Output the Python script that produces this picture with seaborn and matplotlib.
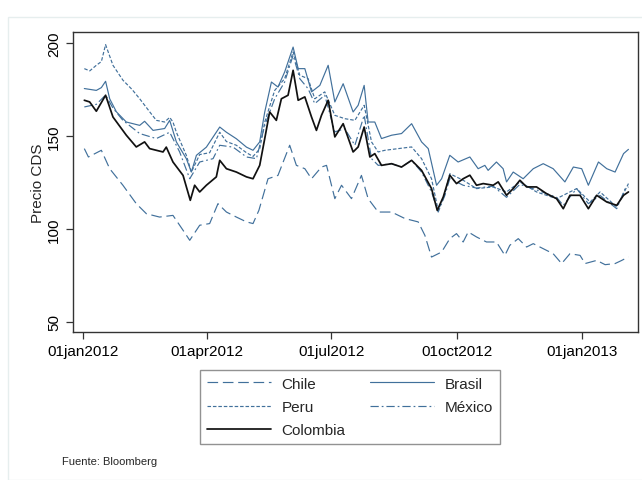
import pandas as pd
import numpy as np
import matplotlib
matplotlib.use('Agg')
import matplotlib.pyplot as plt
import matplotlib.dates as mdates
from matplotlib.lines import Line2D
from matplotlib.patches import Rectangle
import seaborn as sns

sns.set_style('white')
plt.rcParams['font.family'] = ['Liberation Sans', 'DejaVu Sans']

start = pd.Timestamp('2012-01-01')

# days since 01jan2012, CDS price
chile_days = [1, 4, 13.5, 19.6, 29.3, 39.1, 46.5, 56.2, 66, 73.4, 78.3, 85.6, 92.9, 99, 105.2, 112.5,
              119.9, 124.7, 129, 135.7, 143, 151.6, 156.5, 162.7, 167.6, 174.9, 178.6, 184.7, 189.6,
              196.9, 204.2, 209.1, 216.5, 226.3, 236.1, 245.8, 250.7, 255.6, 263, 269, 273.9, 278.8,
              282.5, 288.6, 295.9, 303.2, 309.4, 313, 319.2, 325.3, 330.2, 337.5, 344.8, 351, 357.1,
              364.5, 368.2, 376.7, 382.9, 390.2, 395.1, 400]
chile_vals = [143.2, 138.7, 142.3, 132.4, 123.5, 113.6, 108.2, 106.4, 107.3, 99.3, 93.9, 102, 102.9,
              113.6, 109.1, 106.4, 103.8, 102.9, 110, 127, 128.8, 145, 134.2, 132.4, 127, 133.3, 134.2,
              116.3, 123.5, 116.3, 128.8, 116.3, 109.1, 109.1, 105.6, 103.8, 96.6, 84.9, 87.6, 94.8,
              97.5, 93, 98.4, 95.7, 93, 93, 85.8, 91.2, 94.8, 90.3, 92.1, 89.4, 86.7, 81.4, 86.7, 85.8,
              81.4, 83.1, 80.8, 81.4, 83.1, 85]

brasil_days = [1, 9.8, 13.5, 16.6, 19.6, 24.5, 31.8, 41.6, 45.2, 51.4, 59.9, 63.6, 68.5, 75.8, 79.5,
               83.2, 90.5, 100.3, 105.2, 112.5, 119.9, 124.7, 129.6, 133.3, 138.2, 143, 147.9, 154.1,
               157.8, 162.7, 167.6, 173.7, 179.8, 184.7, 190.8, 198.1, 201.8, 206.2, 209.1, 214, 218.9,
               226.3, 233.6, 241, 248.3, 253.2, 259.3, 263, 269, 275.1, 283.7, 289.8, 294.7, 297.1,
               303.2, 308.1, 310.6, 315.5, 322.8, 330.2, 337.5, 344.8, 353.4, 359.6, 365.7, 370.6, 378,
               384.1, 390.2, 396.4, 400]
brasil_vals = [175.5, 174.5, 176, 179.4, 170, 163, 157.5, 155.7, 157.9, 153, 154, 158.4, 146.8, 137.8,
               130.6, 139.6, 144, 154.8, 152, 148.5, 144, 142.3, 146.8, 162.9, 179, 176.3, 184.4, 197.8,
               186.2, 186.2, 173.7, 177.2, 188, 168.3, 178.1, 162.9, 166.5, 177.2, 157.5, 157.5, 148.6,
               150.4, 151.3, 156.6, 146.8, 143.2, 123.5, 127, 139.6, 136, 138.7, 132.4, 134.2, 131.5,
               136, 132.4, 125.3, 130.6, 127, 132.4, 135.1, 132.4, 125.3, 133.3, 132.4, 123.5, 136,
               132.4, 130.6, 140.5, 142.8]

peru_days = [1, 5, 9.8, 13.5, 16.6, 22, 29.3, 36, 41.6, 48.9, 53.8, 59.9, 63.6, 66, 68.5, 75.8, 79.5,
             85.6, 92.9, 100.3, 105.2, 112.5, 119.9, 124.7, 129.6, 133.3, 140.6, 147.9, 154.1, 159,
             165.1, 170, 177.3, 184.7, 192, 199.4, 206.2, 211.6, 216.5, 221.4, 231.2, 241, 248.3, 255.6,
             260.5, 265, 269, 278.8, 288.6, 300.8, 310.6, 320.4, 332.6, 347.3, 362, 371.9, 379.2, 391.4,
             400]
peru_vals = [186.2, 185, 188, 190, 199.1, 188, 180, 175, 170, 163, 158.4, 157.5, 160, 157.5, 152,
             139.6, 130.6, 140, 141, 152, 147, 145, 141, 139, 143, 157.5, 174.5, 180.8, 195.2, 182.6,
             180.8, 170, 173.7, 161.1, 159.3, 158.4, 166.5, 146.8, 141.4, 142.3, 143.2, 144.1, 137.8,
             127, 110, 118, 129.7, 126.2, 121.7, 122.6, 119.9, 125.3, 119.9, 116.3, 121.7, 114.5, 119.9,
             111.8, 124.4]

mexico_days = [1, 9.8, 16.6, 22, 29.3, 41.6, 53.8, 63.6, 70.9, 78.3, 85.6, 95.4, 100.3, 110.1, 119.9,
               127.2, 133.3, 140.6, 147.9, 154.1, 159, 165.1, 170, 177.3, 184.7, 192, 199.4, 206.2,
               211.6, 216.5, 226.3, 233.6, 241, 248.3, 255.6, 260.5, 265.4, 269, 278.8, 288.6, 300.8,
               310.6, 320.4, 332.6, 347.3, 352.2, 362, 370.6, 379.2, 391.4, 397.6, 400]
mexico_vals = [165.6, 167, 172, 165, 158.4, 151.3, 148.6, 152, 141.4, 127, 136, 137.8, 145, 144, 138.7,
               137.8, 155.7, 170, 179, 193.4, 180.8, 175.4, 167.4, 171.9, 152.2, 153.9, 145, 161.1,
               137.8, 134.2, 135.1, 133.3, 136.9, 130.6, 119.9, 109.1, 118.1, 127.1, 123.5, 122, 123,
               117, 124, 121, 117, 112.7, 121.7, 113.6, 118, 110.9, 121.7, 122.6]

colombia_days = [1, 4.9, 9.8, 16.6, 22, 31.8, 39.1, 45.2, 48.9, 58.7, 61.1, 66, 73.4, 78.7, 81.9, 85.6,
                 90.5, 97.8, 100.3, 105.2, 112.5, 119.9, 124.7, 129.6, 133.3, 136.9, 141.8, 145.5,
                 150.4, 154.1, 157.8, 162.7, 167.6, 171.2, 174.9, 179.8, 184.7, 190.8, 198.1, 201.8,
                 206.2, 210.4, 214, 218.9, 226.3, 233.6, 241, 248.3, 255.6, 259.8, 264.2, 269, 273.9,
                 278.8, 283.7, 288.6, 293.5, 300.8, 304.5, 310.6, 315.5, 320.4, 325.3, 332.6, 339.9,
                 347.3, 352.2, 357.1, 364.5, 370.6, 376.7, 384.1, 391.4, 396.4, 400]
colombia_vals = [169.2, 168.3, 163.3, 171.9, 160.2, 150.4, 144.1, 146.8, 143.2, 141.4, 144, 136, 128.8,
                 115.4, 123.5, 119.9, 123.5, 128, 136.9, 132.4, 130.6, 128, 127, 134.2, 148.6, 162.9,
                 158.4, 170, 171.9, 185.3, 169.2, 171, 160.2, 153, 161.1, 169.2, 149.5, 156.6, 141.4,
                 144.1, 154.8, 138.7, 140.5, 134.2, 135.1, 133.3, 136.9, 131.5, 121.7, 110, 117.2,
                 128.9, 124.4, 127, 128.9, 123.5, 124.4, 123.5, 125.3, 118.1, 121.7, 126.2, 122.6,
                 122.6, 119, 116.3, 110.9, 118.1, 118.1, 110.9, 118.1, 114.5, 112.7, 118.1, 119.9]

series = {'Chile': (chile_days, chile_vals),
          'Brasil': (brasil_days, brasil_vals),
          'Peru': (peru_days, peru_vals),
          'México': (mexico_days, mexico_vals),
          'Colombia': (colombia_days, colombia_vals)}

frames = []
for pais, (d, v) in series.items():
    frames.append(pd.DataFrame({'fecha': start + pd.to_timedelta(np.array(d), unit='D'),
                                'precio': v, 'pais': pais}))
df = pd.concat(frames, ignore_index=True)

azul = '#41709b'
colores = {'Chile': azul, 'Brasil': azul, 'Peru': azul, 'México': azul, 'Colombia': '#111111'}
estilos = {'Chile': (9, 4), 'Brasil': '', 'Peru': (3, 1.6), 'México': (7, 2.5, 1.5, 2.5), 'Colombia': ''}
anchos = {'Chile': 0.85, 'Brasil': 0.85, 'Peru': 0.85, 'México': 0.85, 'Colombia': 1.25}

fig = plt.figure(figsize=(6.42, 4.81), dpi=100)
fig.patches.append(Rectangle((8 / 642, 0), 1, 1 - 18 / 481, transform=fig.transFigure,
                             fill=False, edgecolor='#e6eeee', linewidth=1))
ax = fig.add_axes([73 / 642, 1 - 333 / 481, 565 / 642, 300 / 481])

for pais in ['Chile', 'Peru', 'México', 'Brasil', 'Colombia']:
    sub = df[df['pais'] == pais]
    sns.lineplot(data=sub, x='fecha', y='precio', ax=ax, color=colores[pais],
                 linewidth=anchos[pais], estimator=None, legend=False)
    if estilos[pais]:
        ax.lines[-1].set_dashes(estilos[pais])

ax.set_xlim(start - pd.Timedelta(days=7.3), start + pd.Timedelta(days=407))
ax.set_ylim(44.6, 205.9)
ax.set_yticks([50, 100, 150, 200])
ax.set_xticks(pd.to_datetime(['2012-01-01', '2012-04-01', '2012-07-01', '2012-10-01', '2013-01-01']))
ax.xaxis.set_major_formatter(mdates.DateFormatter('%d%b%Y'))
fig.canvas.draw()
ax.set_xticklabels([t.get_text().lower() for t in ax.get_xticklabels()])
ax.tick_params(axis='both', direction='out', length=5, width=0.9, color='#333333',
               labelsize=11, labelcolor='black', bottom=True, left=True)
for lab in ax.get_yticklabels():
    lab.set_rotation(90)
    lab.set_va('center')
ax.set_xlabel('')
ax.set_ylabel('Precio CDS', fontsize=11)
ax.yaxis.set_label_coords(-28 / 565, 0.5)
for s in ax.spines.values():
    s.set_color('#333333')
    s.set_linewidth(1)

orden = ['Chile', 'Peru', 'Colombia', 'Brasil', 'México']
handles = [Line2D([0], [0], color=colores[p], linewidth=anchos[p],
                  dashes=estilos[p] if estilos[p] else (None, None)) for p in orden]
leg = fig.legend(handles, orden, loc='center', bbox_to_anchor=(350 / 642, 1 - 408 / 481), ncol=2,
                 fontsize=11, handlelength=4.2, handletextpad=0.7, columnspacing=1.6,
                 labelspacing=0.6, frameon=True, fancybox=False, borderpad=0.45)
leg.get_frame().set_edgecolor('#777777')
leg.get_frame().set_linewidth(1)

fig.text(62 / 642, 1 - 462 / 481, 'Fuente: Bloomberg', fontsize=8, va='center', ha='left')

fig.savefig('out.png', dpi=100)
